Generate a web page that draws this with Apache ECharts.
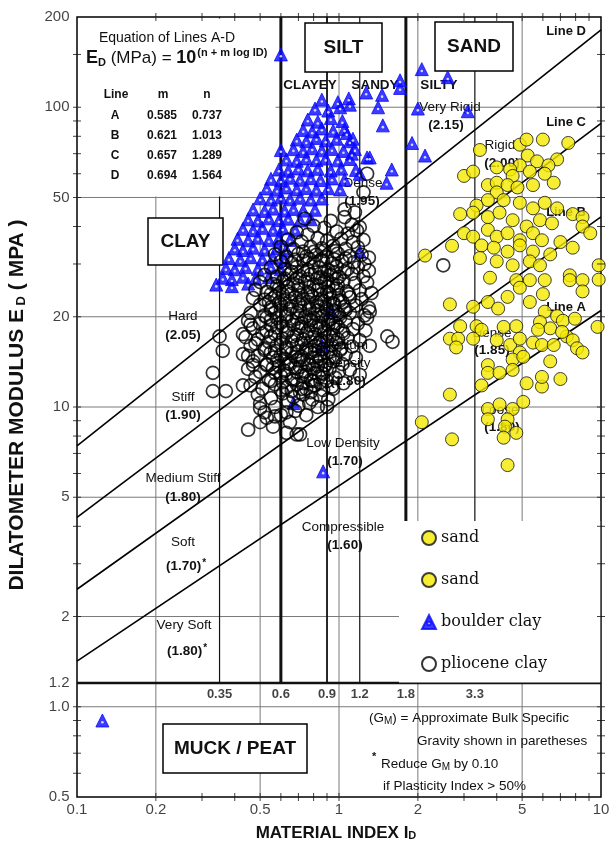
<!DOCTYPE html>
<html>
<head>
<meta charset="utf-8">
<title>Marchetti DMT chart</title>
<script src="https://cdn.jsdelivr.net/npm/echarts@6/dist/echarts.min.js"></script>
<style>
    html, body { margin: 0; padding: 0; background: #fff; }
    #chart { width: 609px; height: 846px; }
</style>
</head>
<body>
<div id="chart"></div>
<script>
const FONT = "'Liberation Sans', Arial, sans-serif";

// lines A-D: ED = 10^(n + m log ID)
const lineNames = ["A", "B", "C", "D"];
const lineM = [0.585, 0.621, 0.657, 0.694];
const lineN = [0.737, 1.013, 1.289, 1.564];

const xTickValues = [0.1, 0.2, 0.5, 1, 2, 5, 10];
const xTickLabels = ["0.1", "0.2", "0.5", "1", "2", "5", "10"];
const yTickValues = [0.5, 1.0, 1.2, 2, 5, 10, 20, 50, 100, 200];
const yTickLabels = ["0.5", "1.0", "1.2", "2", "5", "10", "20", "50", "100", "200"];
const xMinorTicks = [0.2, 0.3, 0.4, 0.5, 0.6, 0.7, 0.8, 0.9, 1, 2, 3, 4, 5, 6, 7, 8, 9];
const yMinorTicks = [0.6, 0.7, 0.8, 0.9, 1, 2, 3, 4, 5, 6, 7, 8, 9, 10, 20, 30, 40, 50, 60, 70, 80, 90, 100, 150];
const gridX = [0.2, 0.5, 1, 2, 5];
const gridY = [1, 2, 5, 10, 20, 50, 100];

const zoneBounds = [0.35, 0.6, 0.9, 1.2, 1.8, 3.3];
const zoneLabels = ["0.35", "0.6", "0.9", "1.2", "1.8", "3.3"];
const zoneWidths = [1.2, 3, 1.8, 1.2, 3, 1.2];
const muckLimit = 1.2;

const sandA = [
    [3.45, 72], [4.9, 75], [5.2, 78], [6.0, 78], [7.5, 76], [5.25, 69], [5.7, 66], [6.8, 67], [6.3, 64], [4.9, 64],
    [4.5, 62], [4.0, 63], [3.0, 59], [3.25, 61], [3.7, 55], [4.0, 56], [4.6, 59], [5.35, 61], [6.1, 60], [6.6, 56],
    [4.4, 55], [4.8, 54], [5.5, 55], [4.0, 52], [3.7, 49], [4.25, 49], [4.9, 48], [5.5, 46], [6.1, 48], [6.8, 46],
    [7.8, 44], [8.5, 43], [8.5, 40], [9.1, 38], [3.35, 47], [3.25, 44.5], [2.9, 44], [3.7, 43], [4.1, 44.5], [4.6, 42],
    [5.2, 40], [5.85, 42], [6.5, 41], [3.0, 38], [3.25, 37], [3.7, 39], [4.0, 37], [4.4, 38], [4.9, 36], [5.5, 38],
    [5.95, 36], [7.0, 35.5], [7.8, 34], [2.7, 34.5], [3.5, 34.6], [3.9, 34], [4.4, 33], [4.9, 34.6], [5.5, 33], [6.4, 32.3],
    [3.45, 31.4], [4.0, 30.6], [4.6, 29.7], [5.35, 30.6], [5.85, 29.7], [2.13, 32], [9.8, 29.7], [7.6, 27.5]
];
const sandB = [
    [3.77, 27], [4.75, 26.5], [5.35, 26.5], [6.1, 26.5], [7.6, 26.5], [8.5, 26.5], [9.8, 26.6], [4.9, 25], [6.0, 23.8], [8.5, 24.3],
    [2.65, 22], [3.25, 21.6], [3.7, 22.4], [4.05, 21.3], [4.4, 23.3], [5.35, 22.4], [6.1, 20.8], [6.8, 20.1], [7.15, 19.4], [7.95, 19.7],
    [5.85, 19.2], [4.25, 18.5], [4.75, 18.6], [2.9, 18.6], [3.35, 18.6], [3.5, 18.1], [2.65, 16.9], [2.85, 16.9], [3.25, 16.9], [4.0, 16.7],
    [4.5, 16.1], [4.9, 16.9], [5.5, 16.4], [5.95, 16.1], [6.6, 16.1], [7.4, 17.2], [7.8, 16.7], [6.4, 18.3], [5.75, 18.1], [7.1, 17.8],
    [2.8, 15.8], [8.1, 15.7], [8.5, 15.2], [9.7, 18.5], [4.9, 15.2], [4.6, 14.4], [5.05, 14.7], [6.4, 14.2], [3.7, 13.8], [3.7, 13.0],
    [4.1, 13.0], [4.6, 13.3], [3.5, 11.8], [5.2, 12.0], [5.95, 11.7], [5.95, 12.6], [7.0, 12.4], [2.65, 11.0], [3.7, 9.85], [4.1, 10.2],
    [4.6, 9.85], [5.05, 10.4], [3.7, 9.1], [4.4, 9.1], [4.3, 8.6], [4.75, 8.2], [4.25, 7.9], [2.7, 7.8], [2.07, 8.9], [4.4, 6.4]
];
const boulderClay = [
    [0.86, 106], [0.99, 104], [1.09, 107], [0.81, 99], [0.91, 97.5], [1.01, 100],
    [0.76, 91], [0.83, 89.5], [0.93, 92], [1.03, 90], [0.73, 84], [0.79, 83], [0.86, 85], [0.95, 83.5], [1.05, 84.5],
    [0.69, 78], [0.75, 77], [0.82, 79], [0.89, 77.5], [0.98, 78.5], [1.1, 77],
    [0.6, 72], [0.67, 72.5], [0.73, 71.5], [0.79, 73], [0.86, 71.8], [0.94, 72.6], [1.04, 71.5], [1.15, 72.5],
    [0.63, 67], [0.69, 66.3], [0.75, 67.5], [0.82, 66.6], [0.89, 67.4], [0.99, 66.5], [1.1, 67.2],
    [0.59, 62], [0.64, 61.4], [0.7, 62.5], [0.76, 61.6], [0.83, 62.3], [0.93, 61.5], [1.02, 62.4], [1.16, 61.8],
    [0.55, 57.7], [0.6, 57.1], [0.65, 58.2], [0.71, 57.3], [0.78, 58], [0.85, 57.2], [0.94, 57.9], [1.05, 57.3],
    [0.53, 53.6], [0.58, 53.1], [0.63, 54], [0.69, 53.2], [0.75, 53.8], [0.82, 53.1], [0.91, 53.7], [1.01, 53.2],
    [0.5, 49.7], [0.55, 49.2], [0.6, 50], [0.65, 49.3], [0.71, 49.9], [0.78, 49.2], [0.86, 49.6],
    [0.47, 45.6], [0.52, 45.1], [0.56, 45.9], [0.62, 45.2], [0.67, 45.8], [0.73, 45.2], [0.81, 45.5],
    [0.45, 42.3], [0.49, 41.9], [0.54, 42.6], [0.59, 42.0], [0.64, 42.5], [0.71, 41.9], [0.78, 42.3],
    [0.43, 39.3], [0.47, 38.9], [0.51, 39.6], [0.56, 39.0], [0.61, 39.5], [0.68, 39.0],
    [0.41, 36.4], [0.45, 36.0], [0.49, 36.7], [0.54, 36.1], [0.59, 36.6], [0.65, 36.1],
    [0.4, 33.8], [0.43, 33.4], [0.47, 34.0], [0.52, 33.5], [0.58, 33.9], [0.63, 33.4],
    [0.38, 31.4], [0.42, 31.0], [0.46, 31.6], [0.51, 31.1], [0.56, 31.5], [0.62, 31.0],
    [0.37, 29.1], [0.4, 28.8], [0.44, 29.3], [0.49, 28.9], [0.55, 29.2], [0.6, 28.8],
    [0.36, 27], [0.39, 26.7], [0.43, 27.2], [0.48, 26.8], [0.54, 27.1], [0.34, 25.6], [0.39, 25.3], [0.45, 25.8],
    [0.6, 150], [2.07, 134], [2.6, 126], [1.71, 123], [1.71, 116], [1.27, 112], [1.46, 110], [1.41, 100], [1.1, 102],
    [1.47, 87], [2.0, 99], [3.1, 97], [1.9, 76], [2.13, 69], [1.28, 68], [1.12, 70], [1.59, 62], [1.52, 56], [1.2, 33],
    [1.13, 78.5], [1.2, 60], [1.31, 68], [1.07, 82], [0.87, 6.1], [0.125, 0.9], [0.67, 10.3], [0.93, 21], [0.86, 16]
];
const plioceneClay = [
    [0.74, 42.5], [0.93, 41.8], [1.05, 43], [0.8, 40.2], [0.88, 39.6], [1.12, 40.5], [1.2, 39.8],
    [0.69, 38.3], [0.76, 37.6], [0.98, 38.5], [1.08, 37.9], [1.17, 38.8],
    [0.64, 36.2], [0.72, 35.6], [0.83, 36.5], [0.9, 35.8], [1.02, 36.4], [1.13, 35.5], [1.24, 36.1],
    [0.6, 34.3], [0.67, 33.6], [0.78, 34.2], [0.86, 33.8], [0.95, 34.5], [1.06, 33.7], [1.18, 34.1],
    [0.57, 32.3], [0.63, 31.7], [0.7, 32.4], [0.75, 31.8], [0.82, 32.2], [0.9, 31.6], [0.99, 32.5], [1.1, 31.9], [1.22, 32.2], [1.3, 31.5],
    [0.6, 30.6], [0.66, 30.2], [0.73, 30.8], [0.8, 30.3], [0.87, 30.7], [0.94, 30.1], [1.03, 30.6], [1.14, 30.4], [1.25, 30.0],
    [0.55, 29.2], [0.62, 28.8], [0.69, 29.3], [0.76, 28.7], [0.84, 29.1], [0.91, 28.6], [0.98, 29.4], [1.08, 28.9], [1.18, 29.2], [1.3, 28.5],
    [0.52, 27.6], [0.58, 27.2], [0.65, 27.8], [0.71, 27.3], [0.78, 27.7], [0.85, 27.1], [0.93, 27.6], [1.0, 27.2], [1.12, 27.8], [1.24, 27.3],
    [0.5, 26.1], [0.56, 25.7], [0.61, 26.3], [0.67, 25.8], [0.74, 26.2], [0.8, 25.6], [0.88, 26.1], [0.95, 25.7], [1.04, 26.3], [1.15, 25.9], [1.28, 26.0],
    [0.48, 24.6], [0.53, 24.2], [0.59, 24.8], [0.64, 24.3], [0.7, 24.7], [0.76, 24.1], [0.83, 24.6], [0.9, 24.2], [0.98, 24.8], [1.07, 24.3], [1.2, 24.5], [1.33, 24.0],
    [0.47, 23.1], [0.52, 22.8], [0.57, 23.3], [0.62, 22.7], [0.68, 23.2], [0.73, 22.9], [0.79, 23.4], [0.86, 22.8], [0.93, 23.1], [1.01, 22.7], [1.1, 23.2], [1.22, 22.9],
    [0.5, 21.9], [0.55, 21.5], [0.6, 22.0], [0.66, 21.6], [0.71, 21.9], [0.77, 21.4], [0.83, 21.8], [0.89, 21.5], [0.96, 22.0], [1.05, 21.6], [1.16, 21.8], [1.3, 21.4],
    [0.46, 20.6], [0.52, 20.2], [0.57, 20.7], [0.63, 20.3], [0.69, 20.6], [0.75, 20.1], [0.81, 20.5], [0.87, 20.2], [0.94, 20.7], [1.0, 20.3], [1.1, 20.6], [1.25, 20.2],
    [0.45, 19.4], [0.5, 19.0], [0.55, 19.5], [0.6, 19.1], [0.66, 19.4], [0.72, 19.0], [0.78, 19.5], [0.84, 19.1], [0.91, 19.4], [0.97, 19.0], [1.06, 19.3], [1.18, 19.0],
    [0.47, 18.3], [0.53, 17.9], [0.58, 18.4], [0.64, 18.0], [0.7, 18.3], [0.76, 17.9], [0.82, 18.4], [0.88, 18.0], [0.95, 18.3], [1.03, 17.9], [1.13, 18.2], [1.26, 18.0],
    [0.44, 17.1], [0.49, 16.8], [0.55, 17.2], [0.61, 16.9], [0.67, 17.2], [0.73, 16.8], [0.79, 17.1], [0.85, 16.7], [0.92, 17.2], [0.99, 16.8], [1.08, 17.0], [1.2, 16.7],
    [0.46, 16.0], [0.52, 15.7], [0.58, 16.1], [0.63, 15.8], [0.69, 16.1], [0.75, 15.7], [0.81, 16.0], [0.87, 15.6], [0.94, 16.1], [1.02, 15.7], [1.12, 15.9],
    [0.43, 15.0], [0.49, 14.8], [0.55, 15.2], [0.6, 14.9], [0.66, 15.1], [0.72, 14.7], [0.78, 15.2], [0.84, 14.8], [0.9, 15.1], [0.97, 14.7], [1.06, 15.0], [1.16, 14.6],
    [0.47, 14.2], [0.53, 13.9], [0.58, 14.3], [0.64, 14.0], [0.7, 14.3], [0.76, 13.9], [0.82, 14.2], [0.88, 13.8], [0.95, 14.2], [1.03, 13.9],
    [0.45, 13.4], [0.5, 13.1], [0.56, 13.5], [0.62, 13.2], [0.68, 13.5], [0.74, 13.1], [0.8, 13.4], [0.86, 13.0], [0.92, 13.4], [1.0, 13.1], [1.1, 13.3],
    [0.48, 12.6], [0.54, 12.3], [0.6, 12.7], [0.66, 12.4], [0.72, 12.7], [0.78, 12.3], [0.84, 12.6], [0.9, 12.2], [0.97, 12.5],
    [0.46, 11.8], [0.51, 11.5], [0.57, 11.9], [0.63, 11.6], [0.69, 11.9], [0.75, 11.5], [0.81, 11.8], [0.87, 11.4], [0.94, 11.7],
    [0.49, 11.0], [0.55, 10.7], [0.61, 11.1], [0.67, 10.8], [0.73, 11.0], [0.79, 10.6], [0.85, 10.9], [0.91, 10.6],
    [0.5, 10.3], [0.57, 10.0], [0.64, 10.4], [0.7, 10.1], [0.77, 10.3], [0.83, 10.0],
    [0.52, 9.6], [0.6, 9.4], [0.68, 9.7], [0.75, 9.4], [0.5, 8.9], [0.56, 8.6], [0.65, 8.9], [0.63, 8.2],
    [0.35, 17.2], [0.36, 15.4], [0.33, 13.0], [0.33, 11.3], [0.37, 11.3], [0.43, 11.8], [0.45, 8.4], [0.43, 17.5],
    [0.46, 18.8], [0.48, 16.3], [0.45, 14.8], [0.47, 13.8], [0.5, 9.9], [0.53, 9.2], [0.57, 9.3], [0.69, 8.1], [0.71, 8.1],
    [0.63, 9.6], [1.28, 60], [1.24, 52], [1.05, 45.6], [1.15, 44.6], [1.53, 17.2], [1.6, 16.5], [2.5, 29.7], [1.2, 12.8],
    [1.31, 16], [1.28, 19.8], [1.31, 20.8], [0.9, 10], [0.95, 11.5], [1.04, 12.0], [0.8, 11.8], [0.71, 11.2],
    // dense core
    [0.73, 33], [0.8, 32.9], [0.88, 33.2], [0.97, 33.1], [0.68, 31], [0.77, 31.2], [0.85, 30.9], [0.96, 31.1], [1.06, 31.3],
    [0.66, 28.2], [0.73, 28.4], [0.81, 28.1], [0.88, 28.3], [0.96, 28.0], [1.05, 28.2],
    [0.62, 26.8], [0.69, 26.9], [0.76, 26.7], [0.83, 26.9], [0.9, 26.6], [0.98, 26.8],
    [0.58, 25.3], [0.64, 25.2], [0.7, 25.4], [0.77, 25.1], [0.84, 25.3], [0.91, 25.2], [0.99, 25.4],
    [0.55, 23.8], [0.61, 23.7], [0.66, 23.9], [0.72, 23.6], [0.78, 23.8], [0.85, 23.7], [0.92, 23.9], [1.0, 23.6], [1.09, 23.8],
    [0.54, 22.4], [0.59, 22.3], [0.65, 22.5], [0.7, 22.2], [0.76, 22.4], [0.82, 22.3], [0.88, 22.5], [0.95, 22.2], [1.03, 22.4],
    [0.55, 21.1], [0.6, 21.0], [0.65, 21.2], [0.71, 20.9], [0.77, 21.1], [0.83, 21.0], [0.9, 21.2], [0.97, 20.9], [1.06, 21.1],
    [0.53, 19.9], [0.58, 19.8], [0.63, 20.0], [0.69, 19.7], [0.74, 19.9], [0.8, 19.8], [0.86, 20.0], [0.93, 19.7], [1.01, 19.9],
    [0.55, 18.7], [0.61, 18.6], [0.67, 18.8], [0.72, 18.5], [0.78, 18.7], [0.85, 18.6], [0.91, 18.8], [0.99, 18.6],
    [0.51, 17.6], [0.57, 17.5], [0.63, 17.7], [0.69, 17.4], [0.75, 17.6], [0.81, 17.5], [0.88, 17.7], [0.95, 17.4], [1.04, 17.6],
    [0.54, 16.5], [0.6, 16.4], [0.66, 16.6], [0.72, 16.3], [0.78, 16.5], [0.84, 16.4], [0.9, 16.6], [0.98, 16.4],
    [0.52, 15.5], [0.57, 15.4], [0.63, 15.6], [0.69, 15.3], [0.75, 15.5], [0.81, 15.4], [0.87, 15.6], [0.93, 15.3], [1.01, 15.5],
    [0.56, 14.6], [0.62, 14.5], [0.68, 14.7], [0.73, 14.4], [0.79, 14.6], [0.85, 14.5], [0.92, 14.6],
    [0.53, 13.8], [0.59, 13.7], [0.65, 13.9], [0.71, 13.6], [0.77, 13.8], [0.83, 13.7], [0.89, 13.8],
    [0.57, 13.0], [0.63, 12.9], [0.69, 13.1], [0.75, 12.8], [0.81, 13.0], [0.87, 12.9],
    [0.55, 12.2], [0.61, 12.1], [0.67, 12.3], [0.73, 12.0], [0.79, 12.2], [0.85, 12.1],
    [0.6, 11.4], [0.66, 11.3], [0.72, 11.5], [0.78, 11.2]
];

// straight segment between two data points, drawn as its own line series
const segment = (a, b, color, width) => ({
    type: "line",
    z: 1,
    silent: true,
    symbol: "none",
    animation: false,
    lineStyle: { color: color, width: width },
    data: [a, b]
});

const segments = [];
for (let x of gridX) segments.push(segment([x, 0.5], [x, 200], "#7a7a7a", 1));
for (let y of gridY) segments.push(segment([0.1, y], [10, y], "#7a7a7a", 1));
zoneBounds.forEach((x, i) => segments.push(segment([x, muckLimit], [x, 200], "#111", zoneWidths[i])));
segments.push(segment([0.1, muckLimit], [10, muckLimit], "#111", 2.6));

const lineSeries = lineNames.map((name, i) => ({
    name: "Line " + name,
    type: "line",
    z: 2,
    silent: true,
    symbol: "none",
    animation: false,
    lineStyle: { color: "#000", width: 1.6 },
    data: [
        [0.1, Math.pow(10, lineN[i] - lineM[i])],
        [10, Math.pow(10, lineN[i] + lineM[i])]
    ]
}));

const BLUE = "#0a0aff";
const sandStyle = { color: "#f5ea00", borderColor: "#111", borderWidth: 1 };
const pointSeries = [
    {
        name: "boulder clay", type: "scatter", z: 5, symbol: "triangle", symbolSize: 13,
        itemStyle: { color: BLUE, borderColor: BLUE, borderWidth: 1 },
        data: boulderClay
    },
    {
        // small white eye inside each boulder clay triangle
        type: "scatter", z: 5.5, silent: true, symbol: "circle", symbolSize: 2.6,
        symbolOffset: [0, 1.8],
        itemStyle: { color: "#fff" },
        data: boulderClay
    },
    {
        name: "pliocene clay", type: "scatter", z: 6, symbol: "circle", symbolSize: 13,
        itemStyle: { color: "rgba(0,0,0,0)", borderColor: "#000", borderWidth: 1.7 },
        data: plioceneClay
    },
    { name: "sand", type: "scatter", z: 7, symbol: "circle", symbolSize: 13, itemStyle: sandStyle, data: sandA },
    { name: "sand ", type: "scatter", z: 7, symbol: "circle", symbolSize: 13, itemStyle: sandStyle, data: sandB }
];

const hiddenDot = { color: "rgba(0,0,0,0)" };
const axisSeries = [
    {
        type: "scatter", z: 8, silent: true, clip: false, symbol: "rect", symbolSize: [8, 1],
        itemStyle: { color: "#111" },
        data: yMinorTicks.flatMap(v => [[0.1, v], [10, v]])
    },
    {
        type: "scatter", z: 8, silent: true, clip: false, symbol: "rect", symbolSize: [1, 8],
        itemStyle: { color: "#111" },
        data: xMinorTicks.flatMap(v => [[v, 0.5], [v, 200]])
    },
    {
        type: "scatter", z: 8, silent: true, clip: false, symbolSize: 1, itemStyle: hiddenDot,
        label: { show: true, position: "left", distance: 7, formatter: "{b}", fontSize: 15, color: "#111", fontFamily: FONT },
        data: yTickValues.map((v, i) => ({ name: yTickLabels[i], value: [0.1, v] }))
    },
    {
        type: "scatter", z: 8, silent: true, clip: false, symbolSize: 1, itemStyle: hiddenDot,
        label: { show: true, position: "bottom", distance: 5, formatter: "{b}", fontSize: 15, color: "#111", fontFamily: FONT },
        data: xTickValues.map((v, i) => ({ name: xTickLabels[i], value: [v, 0.5] }))
    },
    {
        type: "scatter", z: 8, silent: true, clip: false, symbolSize: 1, itemStyle: hiddenDot,
        label: { show: true, position: "inside", formatter: "{b}", fontSize: 13, fontWeight: "bold", color: "#111", fontFamily: FONT },
        data: zoneBounds.map((v, i) => ({ name: zoneLabels[i], value: [v, 1.1] }))
    }
];

// ---- annotations (pixel placed) ----
const txt = (x, y, text, font, extra) => ({
    type: "text", x: x, y: y, z: 4, silent: true,
    style: Object.assign({ text: text, font: font || "13.5px " + FONT, fill: "#111", align: "center", verticalAlign: "middle" }, extra || {})
});
const box = (x, y, w, h) => ({
    type: "rect", z: 3, silent: true,
    shape: { x: x, y: y, width: w, height: h },
    style: { fill: "#fff", stroke: "#000", lineWidth: 1.5 }
});
const mask = (x, y, w, h) => ({
    type: "rect", z: 3, silent: true,
    shape: { x: x, y: y, width: w, height: h },
    style: { fill: "#fff" }
});
const B13 = "bold 13.5px " + FONT;
const R13 = "13.5px " + FONT;
const BOX = "bold 19px " + FONT;
const supStar = { rich: { v: { font: B13 }, s: { font: "bold 10px " + FONT, verticalAlign: "top", padding: [0, 0, 6, 1] } } };

const graphics = [
    mask(78.5, 18.5, 197, 178),
    mask(399, 521, 201.2, 161.5),
    txt(167, 38, "Equation of Lines A-D", "14px " + FONT),
    txt(86, 58, "{e|E}{d|D}{t| (MPa) = }{b|10}{s|(n + m log ID)}", null, {
        align: "left",
        rich: {
            e: { font: "bold 18px " + FONT },
            d: { font: "bold 11px " + FONT, verticalAlign: "bottom", padding: [8, 0, 0, 0] },
            t: { font: "17px " + FONT },
            b: { font: "bold 18px " + FONT },
            s: { font: "bold 11px " + FONT, verticalAlign: "top", padding: [0, 0, 10, 1] }
        }
    }),
    txt(116, 95, "Line", "bold 12px " + FONT),
    txt(163, 95, "m", "bold 12px " + FONT),
    txt(207, 95, "n", "bold 12px " + FONT),
    box(148, 218, 75, 47), txt(185.5, 242, "CLAY", BOX),
    box(305, 23, 77, 49), txt(343.5, 48, "SILT", BOX),
    box(435, 22, 78, 49), txt(474, 47, "SAND", BOX),
    box(163, 724, 144, 49), txt(235, 749, "MUCK / PEAT", BOX),
    txt(310, 85, "CLAYEY", B13), txt(375, 85, "SANDY", B13), txt(439, 85, "SILTY", B13),
    txt(450, 107, "Very Rigid", R13), txt(446, 125, "(2.15)", B13),
    txt(500, 145, "Rigid", R13), txt(502, 163, "(2.00)", B13),
    txt(363, 183, "Dense", R13), txt(362, 201, "(1.95)", B13),
    txt(344, 345, "Medium", R13), txt(348, 363, "Density", R13), txt(348, 381, "(1.80)", B13),
    txt(492, 333, "Dense", R13), txt(492, 350, "(1.85)", B13),
    txt(500, 410, "Loose", R13), txt(502, 427, "(1.80)", B13),
    txt(343, 443, "Low Density", R13), txt(345, 461, "(1.70)", B13),
    txt(343, 527, "Compressible", R13), txt(345, 545, "(1.60)", B13),
    txt(183, 316, "Hard", R13), txt(183, 335, "(2.05)", B13),
    txt(183, 397, "Stiff", R13), txt(183, 415, "(1.90)", B13),
    txt(183, 478, "Medium Stiff", R13), txt(183, 497, "(1.80)", B13),
    txt(183, 542, "Soft", R13), txt(186, 566, "{v|(1.70)}{s|*}", null, supStar),
    txt(184, 625, "Very Soft", R13), txt(187, 651, "{v|(1.80)}{s|*}", null, supStar),
    txt(566, 31, "Line D", "bold 13px " + FONT), txt(566, 122, "Line C", "bold 13px " + FONT),
    txt(566, 212, "Line B", "bold 13px " + FONT), txt(566, 307, "Line A", "bold 13px " + FONT),
    txt(369, 718, "(G{s|M}) = Approximate Bulk Specific", R13, {
        align: "left", rich: { s: { font: "10px " + FONT, verticalAlign: "bottom", padding: [6, 0, 0, 0] } }
    }),
    txt(417, 741, "Gravity shown in paretheses", R13, { align: "left" }),
    txt(372, 757, "*", "bold 11px " + FONT, { align: "left" }),
    txt(381, 764, "Reduce G{s|M} by 0.10", R13, {
        align: "left", rich: { s: { font: "10px " + FONT, verticalAlign: "bottom", padding: [6, 0, 0, 0] } }
    }),
    txt(383, 786, "if Plasticity Index > 50%", R13, { align: "left" }),
    Object.assign(txt(17, 405, "{a|DILATOMETER MODULUS E}{s| D}{a| ( MPA )}", null, {
        rich: {
            a: { font: "bold 21px " + FONT },
            s: { font: "bold 13px " + FONT, verticalAlign: "bottom", padding: [6, 0, 0, 0] }
        }
    }), { rotation: Math.PI / 2 }),
    txt(336, 833, "{a|MATERIAL INDEX I}{s|D}", null, {
        rich: {
            a: { font: "bold 17px " + FONT },
            s: { font: "bold 11px " + FONT, verticalAlign: "bottom", padding: [6, 0, 0, 0] }
        }
    })
];
const tableY = [116, 136, 156, 176];
lineNames.forEach((name, i) => {
    graphics.push(txt(115, tableY[i], name, "bold 12px " + FONT));
    graphics.push(txt(162, tableY[i], lineM[i].toFixed(3), "bold 12px " + FONT));
    graphics.push(txt(207, tableY[i], lineN[i].toFixed(3), "bold 12px " + FONT));
});

const hiddenAxis = {
    axisLine: { show: false },
    axisTick: { show: false },
    axisLabel: { show: false },
    splitLine: { show: false }
};

const chart = echarts.init(document.getElementById("chart"));
chart.setOption({
    animation: false,
    backgroundColor: "#fff",
    textStyle: { fontFamily: FONT },
    grid: { left: 77, right: 8, top: 17, bottom: 49, show: true, borderColor: "#000", borderWidth: 1.5, backgroundColor: "#fff" },
    xAxis: Object.assign({ type: "log", logBase: 10, min: 0.1, max: 10 }, hiddenAxis),
    yAxis: Object.assign({ type: "log", logBase: 10, min: 0.5, max: 200 }, hiddenAxis),
    legend: {
        data: [
            "sand",
            "sand ",
            { name: "boulder clay", icon: "path://M7,1 L13,13 L1,13 Z M7,8.2 m-1.4,0 a1.4,1.4 0 1,0 2.8,0 a1.4,1.4 0 1,0 -2.8,0 Z" },
            "pliocene clay"
        ],
        orient: "vertical",
        left: 416,
        top: 525,
        itemGap: 26,
        itemWidth: 14,
        itemHeight: 14,
        selectedMode: false,
        textStyle: { fontFamily: "'DejaVu Serif', serif", fontSize: 16, color: "#111" }
    },
    graphic: graphics,
    series: segments.concat(lineSeries, pointSeries, axisSeries)
});
</script>
</body>
</html>
